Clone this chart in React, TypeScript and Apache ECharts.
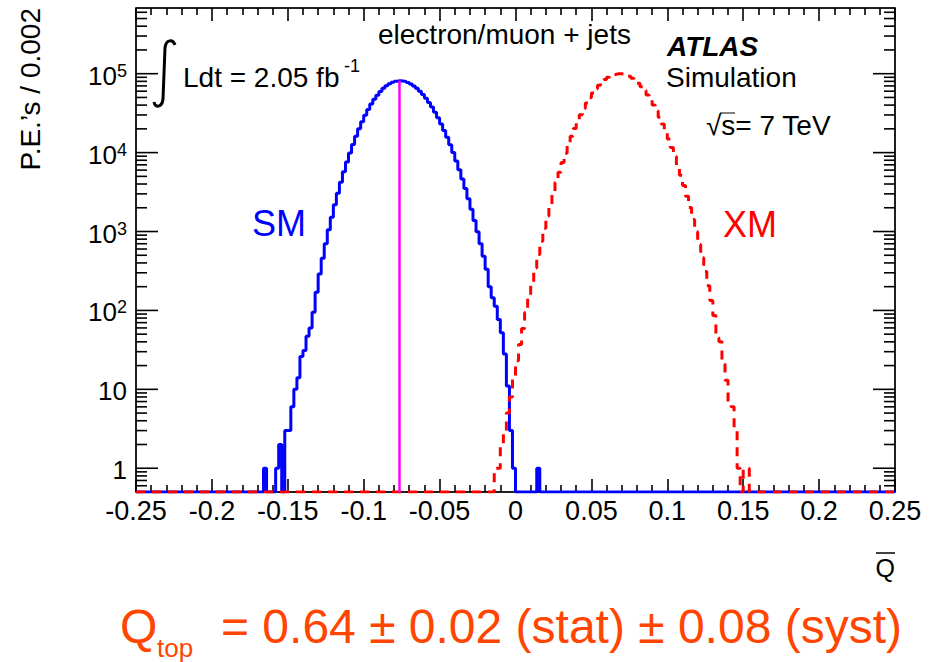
import React, { useEffect, useRef } from 'react';
import * as echarts from 'echarts';

// ---------------- data ----------------
const Q_MIN = -0.25;
const Q_MAX = 0.25;
const Q_TICK_STEP = 0.05;
const BIN_WIDTH = 0.002;
const Y_MIN = 0.5;
const Y_MAX = 6.8e5;

const xTickLabels = ['-0.25', '-0.2', '-0.15', '-0.1', '-0.05', '0', '0.05', '0.1', '0.15', '0.2', '0.25'];
const yMajorTicks = [1, 10, 100, 1000, 10000, 100000];

// SM pseudo-experiments (solid blue), bins of 0.002 starting at lower edge -0.166
const smFirstBinLow = -0.166;
const smCounts = [
  1, 0, 0, 0, 1, 2, 0, 3, 3, 6,
  10, 14, 26, 31, 47, 60, 95, 170, 290, 460,
  700, 1050, 1520, 2180, 3050, 4200, 5700, 7600, 9900, 12700,
  16100, 20100, 24600, 29700, 35300, 41200, 47300, 53500, 59600, 65200,
  70400, 74700, 78100, 80300, 81300, 80900, 79600, 77300, 74000, 70000,
  65300, 60000, 54500, 48900, 43200, 37700, 32400, 27600, 23100, 19100,
  15600, 12600, 10000, 7850, 6080, 4640, 3500, 2600, 1910, 1380,
  990, 700, 485, 333, 200, 145, 113, 77, 52, 28,
  11, 3, 1, 0, 0, 0, 0, 0, 0, 0,
  1,
];

// XM pseudo-experiments (dashed red), bins of 0.002 starting at lower edge -0.014
const xmFirstBinLow = -0.014;
const xmCounts = [
  1, 1, 2, 3, 5, 8, 14, 23, 37, 59,
  94, 147, 226, 344, 513, 755, 1100, 1570, 2210, 3060,
  4190, 5650, 7500, 9820, 12650, 16070, 20140, 24830, 30200, 36140,
  42660, 49660, 56890, 64270, 71450, 78340, 84720, 90160, 94620, 97770,
  99590, 99950, 98880, 96410, 92640, 87770, 81960, 75410, 68390, 61130,
  53850, 46790, 40060, 33790, 28110, 23030, 18610, 14820, 11630, 9000,
  6860, 5160, 3820, 2790, 2010, 1420, 995, 686, 466, 312,
  206, 134, 86, 45, 40, 21, 13, 7, 6, 3,
  1, 0, 1, 1, 0,
];

const smMean = -0.0765;

// ---------------- helpers ----------------
const FONT = '"Liberation Sans", Arial, Helvetica, sans-serif';
const N_BINS = Math.round((Q_MAX - Q_MIN) / BIN_WIDTH);
const MAJOR_TICK_LEN = 22;
const MINOR_TICK_LEN = 11;
const TICK_WIDTH = 1.6;

function countAt(lo: number, firstLow: number, counts: number[]): number {
  const j = Math.round((lo - firstLow) / BIN_WIDTH);
  return j >= 0 && j < counts.length ? counts[j] : 0;
}

function histPoints(firstLow: number, counts: number[]): number[][] {
  const pts: number[][] = [];
  let last = Y_MIN;
  for (let i = 0; i < N_BINS; i++) {
    const lo = +(Q_MIN + i * BIN_WIDTH).toFixed(4);
    const c = countAt(lo, firstLow, counts);
    last = Math.max(c, Y_MIN);
    pts.push([lo, last]);
  }
  pts.push([Q_MAX, last]);
  return pts;
}

const yMinorTicks: number[] = [];
for (let e = -1; e <= 5; e++) {
  for (let m = 2; m <= 9; m++) {
    const v = +(m * Math.pow(10, e)).toPrecision(3);
    if (v > Y_MIN && v < Y_MAX) yMinorTicks.push(v);
  }
}

const yTickData = [
  ...yMajorTicks.map((v) => [Q_MIN, v, MAJOR_TICK_LEN]),
  ...yMinorTicks.map((v) => [Q_MIN, v, MINOR_TICK_LEN]),
];

const bl = (baseline: number, size: number) => baseline - 0.3465 * size;

echarts.graphic.registerShape(
  'integral',
  echarts.graphic.extendPath('M 21 5 C 19 -1 12 -1 11 8 L 9 59 C 8 68 1 68 0 62', {})
);

function yLabel(v: number): string {
  const e = Math.round(Math.log10(v));
  if (Math.abs(v - Math.pow(10, e)) > 1e-6 * v) return '';
  if (e === 0) return '1';
  if (e === 1) return '10';
  return '10{e|' + e + '}';
}

function xLabel(v: number): string {
  const r = Math.round(v * 100) / 100;
  const s = String(r === 0 ? 0 : r);
  return xTickLabels.indexOf(s) >= 0 ? s : '';
}

export default function App() {
  const ref = useRef<HTMLDivElement>(null);

  useEffect(() => {
    if (!ref.current) return;
    const chart = echarts.init(ref.current, null, { renderer: 'svg' });

    const axisLine = { show: true, onZero: false, lineStyle: { color: '#000', width: 1.5 } };
    const tickLine = { color: '#000', width: TICK_WIDTH };

    const smPeakTop = countAt(
      +(Math.floor((smMean - Q_MIN) / BIN_WIDTH) * BIN_WIDTH + Q_MIN).toFixed(4),
      smFirstBinLow,
      smCounts
    );

    const option: any = {
      animation: false,
      grid: { left: 136, right: 45, top: 8, bottom: 170, show: true, borderColor: '#000', borderWidth: 1 },
      xAxis: [
        {
          type: 'value', min: Q_MIN, max: Q_MAX, interval: Q_TICK_STEP, position: 'bottom',
          axisLine,
          axisTick: { show: true, inside: true, length: 13, lineStyle: tickLine },
          minorTick: { show: true, splitNumber: 5, length: 7, lineStyle: tickLine },
          axisLabel: { show: true, margin: 5, fontSize: 27, color: '#000', fontFamily: FONT, formatter: xLabel },
          splitLine: { show: false }, minorSplitLine: { show: false },
        },
        {
          type: 'value', min: Q_MIN, max: Q_MAX, interval: Q_TICK_STEP, position: 'top',
          axisLine,
          axisTick: { show: true, inside: true, length: 13, lineStyle: tickLine },
          minorTick: { show: true, splitNumber: 5, length: 7, lineStyle: tickLine },
          axisLabel: { show: false },
          splitLine: { show: false }, minorSplitLine: { show: false },
        },
      ],
      yAxis: [
        {
          type: 'log', min: Y_MIN, max: Y_MAX, position: 'left',
          axisLine,
          axisTick: { show: false },
          axisLabel: {
            show: true, margin: 9, fontSize: 26, color: '#000', fontFamily: FONT, lineHeight: 28,
            customValues: yMajorTicks, formatter: yLabel, padding: [4, 0, 0, 0],
            rich: { e: { fontSize: 18, lineHeight: 14, verticalAlign: 'top', color: '#000', fontFamily: FONT } },
          },
          splitLine: { show: false },
        },
        {
          type: 'log', min: Y_MIN, max: Y_MAX, position: 'right',
          axisLine,
          axisTick: { show: false },
          axisLabel: { show: false },
          splitLine: { show: false },
        },
      ],
      series: [
        {
          type: 'custom', name: 'y-ticks', xAxisIndex: 0, yAxisIndex: 0, silent: true, z: 5,
          data: yTickData,
          encode: { x: 0, y: 1 },
          renderItem: (params: any, api: any) => {
            const v = api.value(1);
            const len = api.value(2);
            const pL = api.coord([Q_MIN, v]);
            const pR = api.coord([Q_MAX, v]);
            return {
              type: 'group',
              children: [
                { type: 'line', shape: { x1: pL[0], y1: pL[1], x2: pL[0] + len, y2: pL[1] }, style: { stroke: '#000', lineWidth: TICK_WIDTH } },
                { type: 'line', shape: { x1: pR[0], y1: pR[1], x2: pR[0] - len, y2: pR[1] }, style: { stroke: '#000', lineWidth: TICK_WIDTH } },
              ],
            };
          },
        },
        {
          type: 'line', name: 'SM', xAxisIndex: 0, yAxisIndex: 0, silent: true,
          data: histPoints(smFirstBinLow, smCounts), step: 'end', symbol: 'none',
          lineStyle: { color: '#0000ff', width: 3 }, itemStyle: { color: '#0000ff' },
          z: 3,
          markLine: {
            silent: true, symbol: ['none', 'none'], label: { show: false },
            lineStyle: { color: '#ff00ff', width: 2.5, type: 'solid' },
            data: [[{ coord: [smMean, Y_MIN] }, { coord: [smMean, smPeakTop] }]],
          },
        },
        {
          type: 'line', name: 'XM', xAxisIndex: 0, yAxisIndex: 0, silent: true,
          data: histPoints(xmFirstBinLow, xmCounts), step: 'end', symbol: 'none',
          lineStyle: { color: '#ff0000', width: 3, type: [9, 7] }, itemStyle: { color: '#ff0000' },
          z: 4,
        },
      ],
      graphic: [
        { type: 'text', x: 378, y: bl(44, 28), style: { text: 'electron/muon + jets', fontSize: 28, fontFamily: FONT, fill: '#000', align: 'left', verticalAlign: 'middle' } },
        { type: 'text', x: 667, y: bl(56.7, 28), style: { text: 'ATLAS', fontSize: 28, fontFamily: FONT, fontWeight: 'bold', fontStyle: 'italic', fill: '#000', align: 'left', verticalAlign: 'middle' } },
        { type: 'text', x: 666, y: bl(87.3, 28), style: { text: 'Simulation', fontSize: 28, fontFamily: FONT, fill: '#000', align: 'left', verticalAlign: 'middle' } },
        { type: 'text', x: 706, y: bl(135, 28), style: { text: '√s= 7 TeV', fontSize: 28, fontFamily: FONT, fill: '#000', align: 'left', verticalAlign: 'middle' } },
        { type: 'line', shape: { x1: 720, y1: 113, x2: 735, y2: 113 }, style: { stroke: '#000', lineWidth: 1 } },
        { type: 'integral', x: 154, y: 40, style: { stroke: '#000', fill: null, lineWidth: 3 } },
        { type: 'text', x: 183, y: bl(87.3, 28), style: { text: 'Ldt = 2.05 fb', fontSize: 28, fontFamily: FONT, fill: '#000', align: 'left', verticalAlign: 'middle' } },
        { type: 'text', x: 344, y: bl(72, 18), style: { text: '-1', fontSize: 18, fontFamily: FONT, fill: '#000', align: 'left', verticalAlign: 'middle' } },
        { type: 'text', x: 252, y: bl(236, 36), style: { text: 'SM', fontSize: 36, fontFamily: FONT, fill: '#0000ff', align: 'left', verticalAlign: 'middle' } },
        { type: 'text', x: 723, y: bl(236.7, 36), style: { text: 'XM', fontSize: 36, fontFamily: FONT, fill: '#ff0000', align: 'left', verticalAlign: 'middle' } },
        { type: 'text', x: 895, y: bl(576.5, 25), style: { text: 'Q', fontSize: 25, fontFamily: FONT, fill: '#000', align: 'right', verticalAlign: 'middle' } },
        { type: 'line', shape: { x1: 876, y1: 553, x2: 895, y2: 553 }, style: { stroke: '#000', lineWidth: 1.5 } },
        { type: 'text', x: 30, y: 8, rotation: Math.PI / 2, style: { text: 'P.E.’s / 0.002', fontSize: 28, fontFamily: FONT, fill: '#000', align: 'right', verticalAlign: 'middle' } },
        { type: 'text', x: 120, y: bl(643, 48), style: { text: 'Q', fontSize: 48, fontFamily: FONT, fill: '#ff4500', align: 'left', verticalAlign: 'middle' } },
        { type: 'text', x: 157, y: bl(657, 26), style: { text: 'top', fontSize: 26, fontFamily: FONT, fill: '#ff4500', align: 'left', verticalAlign: 'middle' } },
        { type: 'text', x: 221, y: bl(643, 48), style: { text: '= 0.64 ± 0.02 (stat) ± 0.08 (syst)', fontSize: 48, fontFamily: FONT, fill: '#ff4500', align: 'left', verticalAlign: 'middle' } },
      ],
    };

    chart.setOption(option);
    return () => chart.dispose();
  }, []);

  return <div ref={ref} style={{ position: 'absolute', left: 0, top: 0, width: 940, height: 662 }} />;
}
